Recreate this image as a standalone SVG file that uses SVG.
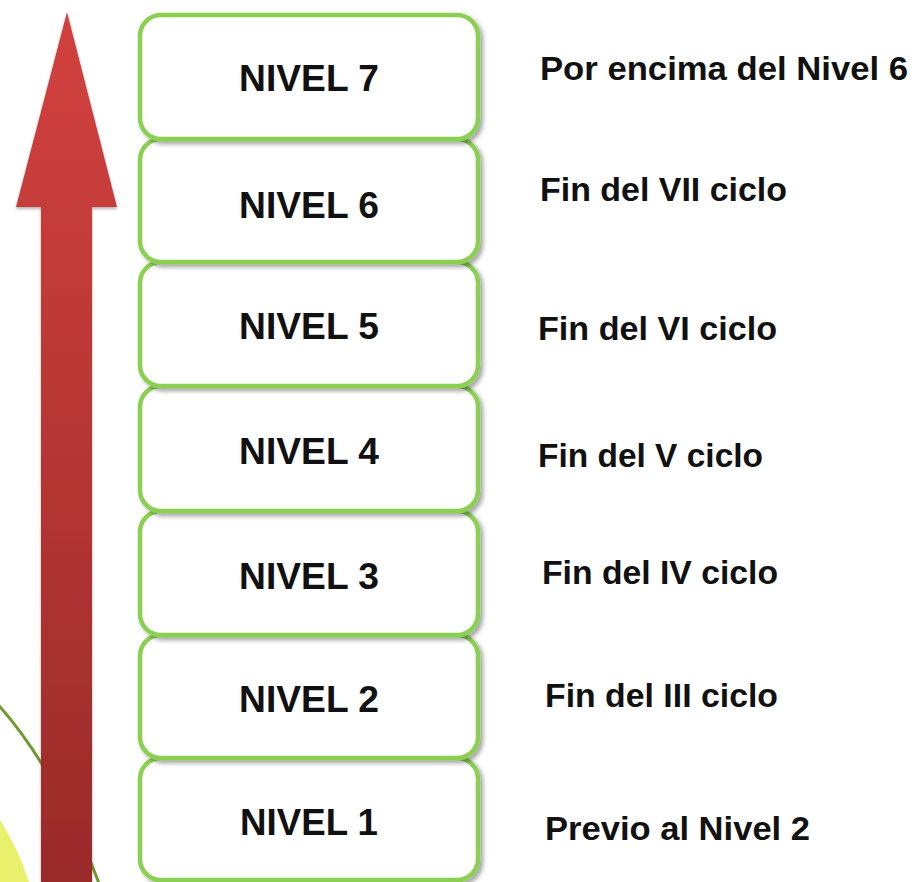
<svg xmlns="http://www.w3.org/2000/svg" width="917" height="882" viewBox="0 0 917 882">
<defs>
<linearGradient id="arrowGrad" x1="0" y1="0" x2="0" y2="1">
<stop offset="0" stop-color="#D2413F"/>
<stop offset="1" stop-color="#9A2B29"/>
</linearGradient>
<filter id="shadow" x="-10%" y="-10%" width="125%" height="130%">
<feDropShadow dx="3" dy="3" stdDeviation="2" flood-color="#000" flood-opacity="0.35"/>
</filter>
<filter id="ashadow" x="-20%" y="-5%" width="140%" height="110%">
<feDropShadow dx="0" dy="2" stdDeviation="1.5" flood-color="#000" flood-opacity="0.3"/>
</filter>
</defs>
<style>
.box{fill:#ffffff;stroke:#8CD052;stroke-width:4.5;filter:url(#shadow)}
.lbl{font-family:"Liberation Sans",Arial,sans-serif;font-weight:bold;font-size:37px;fill:#111;text-anchor:middle}
.desc{font-family:"Liberation Sans",Arial,sans-serif;font-weight:bold;font-size:34px;fill:#111}
</style>
<rect width="917" height="882" fill="#ffffff"/>
<g id="background">
<path d="M0 820 Q18 848 29 882 L0 882 Z" fill="#E8F06C"/>
<path d="M-8 698 Q55 765 100 886" fill="none" stroke="#6E9A2E" stroke-width="3"/>
</g>
<g id="arrow" filter="url(#ashadow)">
<path d="M67 12 L117 207 L92 207 L92 882 L41 882 L41 207 L16 207 Z" fill="url(#arrowGrad)"/>
</g>
<g id="nivel1"><rect class="box" x="140" y="758" width="338" height="122" rx="21"/><text class="lbl" x="309" y="835" textLength="138" lengthAdjust="spacingAndGlyphs">NIVEL 1</text></g>
<g id="nivel2"><rect class="box" x="140" y="635" width="338" height="123" rx="21"/><text class="lbl" x="309" y="712" textLength="140" lengthAdjust="spacingAndGlyphs">NIVEL 2</text></g>
<g id="nivel3"><rect class="box" x="140" y="511" width="338" height="124" rx="21"/><text class="lbl" x="309" y="589" textLength="140" lengthAdjust="spacingAndGlyphs">NIVEL 3</text></g>
<g id="nivel4"><rect class="box" x="140" y="386" width="338" height="125" rx="21"/><text class="lbl" x="309" y="464" textLength="140" lengthAdjust="spacingAndGlyphs">NIVEL 4</text></g>
<g id="nivel5"><rect class="box" x="140" y="262" width="338" height="124" rx="21"/><text class="lbl" x="309" y="339" textLength="140" lengthAdjust="spacingAndGlyphs">NIVEL 5</text></g>
<g id="nivel6"><rect class="box" x="140" y="139" width="338" height="123" rx="21"/><text class="lbl" x="309" y="218" textLength="140" lengthAdjust="spacingAndGlyphs">NIVEL 6</text></g>
<g id="nivel7"><rect class="box" x="140" y="15" width="338" height="124" rx="21"/><text class="lbl" x="309" y="91" textLength="140" lengthAdjust="spacingAndGlyphs">NIVEL 7</text></g>
<g id="descriptions">
<text class="desc" x="540" y="80" textLength="368" lengthAdjust="spacingAndGlyphs">Por encima del Nivel 6</text>
<text class="desc" x="540" y="201" textLength="247" lengthAdjust="spacingAndGlyphs">Fin del VII ciclo</text>
<text class="desc" x="538" y="340" textLength="239" lengthAdjust="spacingAndGlyphs">Fin del VI ciclo</text>
<text class="desc" x="538" y="467" textLength="225" lengthAdjust="spacingAndGlyphs">Fin del V ciclo</text>
<text class="desc" x="542" y="584" textLength="236" lengthAdjust="spacingAndGlyphs">Fin del IV ciclo</text>
<text class="desc" x="545" y="707" textLength="233" lengthAdjust="spacingAndGlyphs">Fin del III ciclo</text>
<text class="desc" x="545" y="840" textLength="265" lengthAdjust="spacingAndGlyphs">Previo al Nivel 2</text>
</g>
<g id="connectors"></g>
</svg>
